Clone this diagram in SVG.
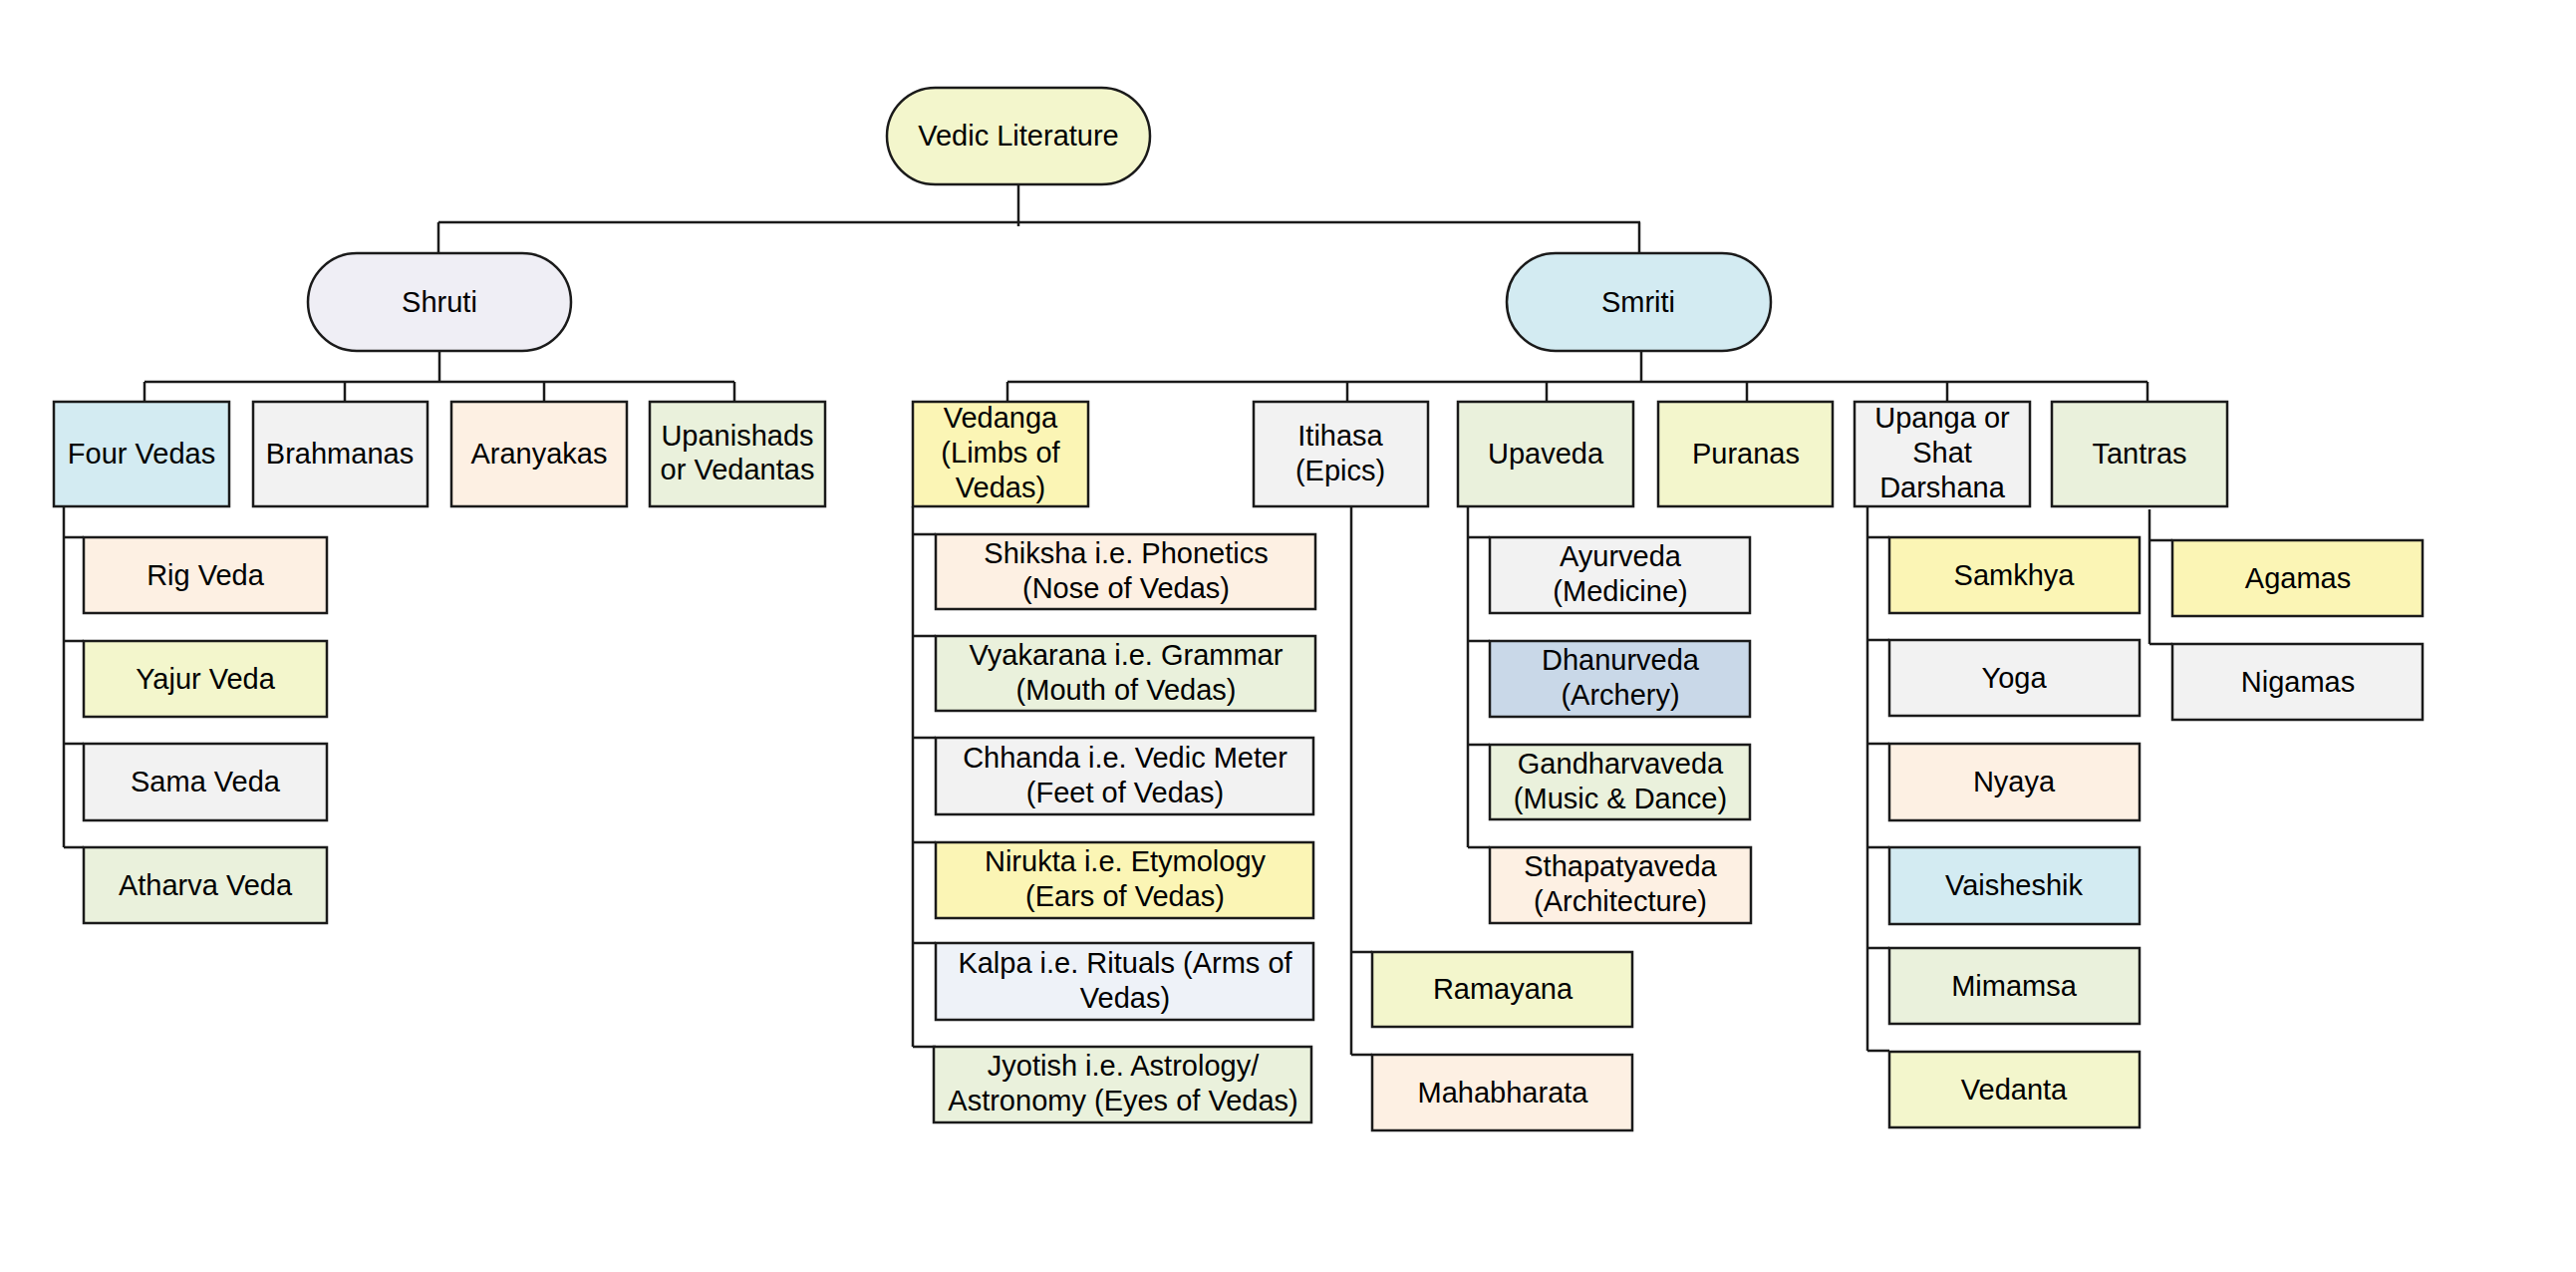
<svg xmlns="http://www.w3.org/2000/svg" width="2585" height="1276" viewBox="0 0 2585 1276">
<style>
.b{stroke:#1a1a1a;stroke-width:2.5}
.t{font-family:"Liberation Sans",Arial,sans-serif;font-size:29px;fill:#000;text-anchor:middle}
.c{fill:none;stroke:#1a1a1a;stroke-width:2.5}
.yg{fill:#f3f6cc}.lv{fill:#efeef5}.cy{fill:#d3ebf2}.gr{fill:#f2f2f2}.or{fill:#fdf0e3}.gn{fill:#eaf1dc}.ye{fill:#fbf5b5}.bl{fill:#eef2f8}.sb{fill:#c9d8e8}
</style>
<rect width="2585" height="1276" fill="#fff"/>
<g id="connectors" class="c">
<path d="M1022 185V227M440 223H1646M440 223V254M1645 223V254"/>
<path d="M441 352V383M145 383H737M145 383V403M346 383V403M546 383V403M737 383V403"/>
<path d="M1647 352V383M1011 383H2155M1011 383V403M1352 383V403M1552 383V403M1753 383V403M1954 383V403M2155 383V403"/>
<path d="M64 508V850M64 539H84M64 643H84M64 746H84M64 850H84"/>
<path d="M916 508V1050M916 536H939M916 638H939M916 740H939M916 845H939M916 946H939M916 1050H939"/>
<path d="M1356 508V1058M1356 955H1377M1356 1058H1377"/>
<path d="M1473 508V850M1473 539H1495M1473 643H1495M1473 747H1495M1473 850H1495"/>
<path d="M1874 508V1054M1874 539H1896M1874 642H1896M1874 746H1896M1874 850H1896M1874 951H1896M1874 1054H1896"/>
<path d="M2157 511V646M2157 542H2180M2157 646H2180"/>
</g>
<g id="vedic-literature"><rect class="b yg" x="890" y="88" width="264" height="97" rx="48.5"/><text class="t" x="1022" y="146">Vedic Literature</text></g>
<g id="shruti"><rect class="b lv" x="309" y="254" width="264" height="98" rx="49"/><text class="t" x="441" y="313">Shruti</text></g>
<g id="smriti"><rect class="b cy" x="1512" y="254" width="265" height="98" rx="49"/><text class="t" x="1644" y="313">Smriti</text></g>

<g id="four-vedas"><rect class="b cy" x="54" y="403" width="176" height="105"/><text class="t" x="142" y="465">Four Vedas</text></g>
<g id="brahmanas"><rect class="b gr" x="254" y="403" width="175" height="105"/><text class="t" x="341" y="465">Brahmanas</text></g>
<g id="aranyakas"><rect class="b or" x="453" y="403" width="176" height="105"/><text class="t" x="541" y="465">Aranyakas</text></g>
<g id="upanishads"><rect class="b gn" x="652" y="403" width="176" height="105"/><text class="t" x="740" y="447">Upanishads</text><text class="t" x="740" y="481">or Vedantas</text></g>

<g id="rig-veda"><rect class="b or" x="84" y="539" width="244" height="76"/><text class="t" x="206" y="587">Rig Veda</text></g>
<g id="yajur-veda"><rect class="b yg" x="84" y="643" width="244" height="76"/><text class="t" x="206" y="691">Yajur Veda</text></g>
<g id="sama-veda"><rect class="b gr" x="84" y="746" width="244" height="77"/><text class="t" x="206" y="794">Sama Veda</text></g>
<g id="atharva-veda"><rect class="b gn" x="84" y="850" width="244" height="76"/><text class="t" x="206" y="898">Atharva Veda</text></g>

<g id="vedanga"><rect class="b ye" x="916" y="403" width="176" height="105"/><text class="t" x="1004" y="429">Vedanga</text><text class="t" x="1004" y="464">(Limbs of</text><text class="t" x="1004" y="499">Vedas)</text></g>
<g id="itihasa"><rect class="b gr" x="1258" y="403" width="175" height="105"/><text class="t" x="1345" y="447">Itihasa</text><text class="t" x="1345" y="482">(Epics)</text></g>
<g id="upaveda"><rect class="b gn" x="1463" y="403" width="176" height="105"/><text class="t" x="1551" y="465">Upaveda</text></g>
<g id="puranas"><rect class="b yg" x="1664" y="403" width="175" height="105"/><text class="t" x="1752" y="465">Puranas</text></g>
<g id="upanga"><rect class="b gr" x="1861" y="403" width="176" height="105"/><text class="t" x="1949" y="429">Upanga or</text><text class="t" x="1949" y="464">Shat</text><text class="t" x="1949" y="499">Darshana</text></g>
<g id="tantras"><rect class="b gn" x="2059" y="403" width="176" height="105"/><text class="t" x="2147" y="465">Tantras</text></g>

<g id="shiksha"><rect class="b or" x="939" y="536" width="381" height="75"/><text class="t" x="1130" y="565">Shiksha i.e. Phonetics</text><text class="t" x="1130" y="600">(Nose of Vedas)</text></g>
<g id="vyakarana"><rect class="b gn" x="939" y="638" width="381" height="75"/><text class="t" x="1130" y="667">Vyakarana i.e. Grammar</text><text class="t" x="1130" y="702">(Mouth of Vedas)</text></g>
<g id="chhanda"><rect class="b gr" x="939" y="740" width="379" height="77"/><text class="t" x="1129" y="770">Chhanda i.e. Vedic Meter</text><text class="t" x="1129" y="805">(Feet of Vedas)</text></g>
<g id="nirukta"><rect class="b ye" x="939" y="845" width="379" height="76"/><text class="t" x="1129" y="874">Nirukta i.e. Etymology</text><text class="t" x="1129" y="909">(Ears of Vedas)</text></g>
<g id="kalpa"><rect class="b bl" x="939" y="946" width="379" height="77"/><text class="t" x="1129" y="976">Kalpa i.e. Rituals (Arms of</text><text class="t" x="1129" y="1011">Vedas)</text></g>
<g id="jyotish"><rect class="b gn" x="937" y="1050" width="379" height="76"/><text class="t" x="1127" y="1079">Jyotish i.e. Astrology/</text><text class="t" x="1127" y="1114">Astronomy (Eyes of Vedas)</text></g>

<g id="ramayana"><rect class="b yg" x="1377" y="955" width="261" height="75"/><text class="t" x="1508" y="1002">Ramayana</text></g>
<g id="mahabharata"><rect class="b or" x="1377" y="1058" width="261" height="76"/><text class="t" x="1508" y="1106">Mahabharata</text></g>

<g id="ayurveda"><rect class="b gr" x="1495" y="539" width="261" height="76"/><text class="t" x="1626" y="568">Ayurveda</text><text class="t" x="1626" y="603">(Medicine)</text></g>
<g id="dhanurveda"><rect class="b sb" x="1495" y="643" width="261" height="76"/><text class="t" x="1626" y="672">Dhanurveda</text><text class="t" x="1626" y="707">(Archery)</text></g>
<g id="gandharvaveda"><rect class="b gn" x="1495" y="747" width="261" height="75"/><text class="t" x="1626" y="776">Gandharvaveda</text><text class="t" x="1626" y="811">(Music &amp; Dance)</text></g>
<g id="sthapatyaveda"><rect class="b or" x="1495" y="850" width="262" height="76"/><text class="t" x="1626" y="879">Sthapatyaveda</text><text class="t" x="1626" y="914">(Architecture)</text></g>

<g id="samkhya"><rect class="b ye" x="1896" y="539" width="251" height="76"/><text class="t" x="2021" y="587">Samkhya</text></g>
<g id="yoga"><rect class="b gr" x="1896" y="642" width="251" height="76"/><text class="t" x="2021" y="690">Yoga</text></g>
<g id="nyaya"><rect class="b or" x="1896" y="746" width="251" height="77"/><text class="t" x="2021" y="794">Nyaya</text></g>
<g id="vaisheshik"><rect class="b cy" x="1896" y="850" width="251" height="77"/><text class="t" x="2021" y="898">Vaisheshik</text></g>
<g id="mimamsa"><rect class="b gn" x="1896" y="951" width="251" height="76"/><text class="t" x="2021" y="999">Mimamsa</text></g>
<g id="vedanta"><rect class="b yg" x="1896" y="1055" width="251" height="76"/><text class="t" x="2021" y="1103">Vedanta</text></g>

<g id="agamas"><rect class="b ye" x="2180" y="542" width="251" height="76"/><text class="t" x="2306" y="590">Agamas</text></g>
<g id="nigamas"><rect class="b gr" x="2180" y="646" width="251" height="76"/><text class="t" x="2306" y="694">Nigamas</text></g>
</svg>
